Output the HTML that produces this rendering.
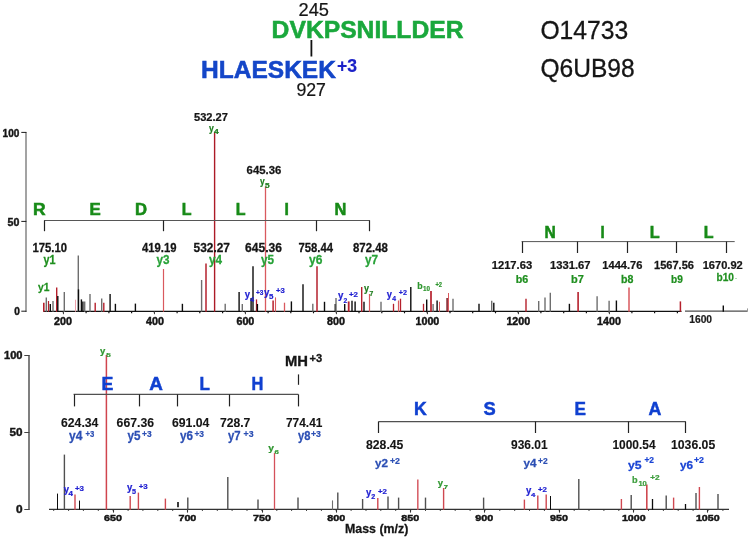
<!DOCTYPE html>
<html lang="en">
<head>
<meta charset="utf-8">
<title>Cross-linked peptide MS/MS spectrum</title>
<style>
html,body{margin:0;padding:0;background:#fff;}
body{width:750px;height:539px;overflow:hidden;}
svg{display:block;font-family:"Liberation Sans",sans-serif;}
svg text{white-space:pre;}
</style>
</head>
<body>
<svg width="750" height="539" viewBox="0 0 750 539">
<rect x="0" y="0" width="750" height="539" fill="#ffffff"/>
<text transform="translate(298.50,15.9) scale(0.987,1)" font-size="18.50" font-weight="normal" fill="#151515" stroke="#151515" stroke-width="0.22">245</text>
<text transform="translate(271.60,38.2) scale(1.036,1)" font-size="23.83" font-weight="bold" fill="#1aa83c" stroke="#1aa83c" stroke-width="0.52">DVKPSNILLDER</text>
<line x1="311.4" y1="40.0" x2="311.4" y2="56.5" stroke="#111" stroke-width="1.8"/>
<text transform="translate(201.00,77.6) scale(1.044,1)" font-size="23.51" font-weight="bold" fill="#1446c8" stroke="#1446c8" stroke-width="0.52">HLAESKEK</text>
<text transform="translate(336.90,72.3) scale(0.959,1)" font-size="18.39" font-weight="bold" fill="#1c22c8" stroke="#1c22c8" stroke-width="0.15">+3</text>
<text transform="translate(296.40,95.8) scale(0.969,1)" font-size="18.29" font-weight="normal" fill="#151515" stroke="#151515" stroke-width="0.22">927</text>
<text transform="translate(540.40,39.4) scale(0.992,1)" font-size="24.87" font-weight="normal" fill="#151515" stroke="#151515" stroke-width="0.30">O14733</text>
<text transform="translate(540.40,76.5) scale(0.988,1)" font-size="24.87" font-weight="normal" fill="#151515" stroke="#151515" stroke-width="0.30">Q6UB98</text>
<line x1="26.0" y1="132.0" x2="26.0" y2="311.9" stroke="#7c7c7c" stroke-width="1.4"/>
<line x1="21.3" y1="132.4" x2="26.4" y2="132.4" stroke="#1a1a1a" stroke-width="1.0"/>
<line x1="21.3" y1="221.4" x2="26.4" y2="221.4" stroke="#1a1a1a" stroke-width="1.0"/>
<line x1="21.3" y1="311.2" x2="26.4" y2="311.2" stroke="#1a1a1a" stroke-width="1.0"/>
<text transform="translate(2.60,136.5) scale(0.908,1)" font-size="11.08" font-weight="bold" fill="#151515" stroke="#151515" stroke-width="0.45">100</text>
<text transform="translate(7.60,225.5) scale(0.960,1)" font-size="11.08" font-weight="bold" fill="#151515" stroke="#151515" stroke-width="0.45">50</text>
<text transform="translate(14.20,315.3) scale(0.911,1)" font-size="11.08" font-weight="bold" fill="#151515" stroke="#151515" stroke-width="0.45">0</text>
<line x1="43.4" y1="311.4" x2="681.5" y2="311.4" stroke="#111" stroke-width="1.3"/>
<line x1="685.0" y1="311.1" x2="747.5" y2="311.1" stroke="#4c4c4c" stroke-width="1.1"/>
<line x1="62.8" y1="312.6" x2="64.0" y2="312.6" stroke="#111" stroke-width="1.4"/>
<line x1="85.5" y1="312.6" x2="86.7" y2="312.6" stroke="#111" stroke-width="1.4"/>
<line x1="108.3" y1="312.6" x2="109.5" y2="312.6" stroke="#111" stroke-width="1.4"/>
<line x1="131.0" y1="312.6" x2="132.2" y2="312.6" stroke="#111" stroke-width="1.4"/>
<line x1="153.8" y1="312.6" x2="155.0" y2="312.6" stroke="#111" stroke-width="1.4"/>
<line x1="176.5" y1="312.6" x2="177.7" y2="312.6" stroke="#111" stroke-width="1.4"/>
<line x1="199.2" y1="312.6" x2="200.4" y2="312.6" stroke="#111" stroke-width="1.4"/>
<line x1="222.0" y1="312.6" x2="223.2" y2="312.6" stroke="#111" stroke-width="1.4"/>
<line x1="244.7" y1="312.6" x2="245.9" y2="312.6" stroke="#111" stroke-width="1.4"/>
<line x1="267.5" y1="312.6" x2="268.7" y2="312.6" stroke="#111" stroke-width="1.4"/>
<line x1="290.2" y1="312.6" x2="291.4" y2="312.6" stroke="#111" stroke-width="1.4"/>
<line x1="312.9" y1="312.6" x2="314.1" y2="312.6" stroke="#111" stroke-width="1.4"/>
<line x1="335.7" y1="312.6" x2="336.9" y2="312.6" stroke="#111" stroke-width="1.4"/>
<line x1="358.4" y1="312.6" x2="359.6" y2="312.6" stroke="#111" stroke-width="1.4"/>
<line x1="381.2" y1="312.6" x2="382.4" y2="312.6" stroke="#111" stroke-width="1.4"/>
<line x1="403.9" y1="312.6" x2="405.1" y2="312.6" stroke="#111" stroke-width="1.4"/>
<line x1="426.6" y1="312.6" x2="427.8" y2="312.6" stroke="#111" stroke-width="1.4"/>
<line x1="449.4" y1="312.6" x2="450.6" y2="312.6" stroke="#111" stroke-width="1.4"/>
<line x1="472.1" y1="312.6" x2="473.3" y2="312.6" stroke="#111" stroke-width="1.4"/>
<line x1="494.9" y1="312.6" x2="496.1" y2="312.6" stroke="#111" stroke-width="1.4"/>
<line x1="517.6" y1="312.6" x2="518.8" y2="312.6" stroke="#111" stroke-width="1.4"/>
<line x1="540.3" y1="312.6" x2="541.5" y2="312.6" stroke="#111" stroke-width="1.4"/>
<line x1="563.1" y1="312.6" x2="564.3" y2="312.6" stroke="#111" stroke-width="1.4"/>
<line x1="585.8" y1="312.6" x2="587.0" y2="312.6" stroke="#111" stroke-width="1.4"/>
<line x1="608.6" y1="312.6" x2="609.8" y2="312.6" stroke="#111" stroke-width="1.4"/>
<line x1="631.3" y1="312.6" x2="632.5" y2="312.6" stroke="#111" stroke-width="1.4"/>
<line x1="654.0" y1="312.6" x2="655.2" y2="312.6" stroke="#111" stroke-width="1.4"/>
<line x1="676.8" y1="312.6" x2="678.0" y2="312.6" stroke="#111" stroke-width="1.4"/>
<line x1="63.5" y1="311.4" x2="63.5" y2="314.2" stroke="#444" stroke-width="1.0"/>
<line x1="154.5" y1="311.4" x2="154.5" y2="314.2" stroke="#444" stroke-width="1.0"/>
<line x1="245.5" y1="311.4" x2="245.5" y2="314.2" stroke="#444" stroke-width="1.0"/>
<line x1="336.5" y1="311.4" x2="336.5" y2="314.2" stroke="#444" stroke-width="1.0"/>
<line x1="427.5" y1="311.4" x2="427.5" y2="314.2" stroke="#444" stroke-width="1.0"/>
<line x1="518.5" y1="311.4" x2="518.5" y2="314.2" stroke="#444" stroke-width="1.0"/>
<line x1="609.5" y1="311.4" x2="609.5" y2="314.2" stroke="#444" stroke-width="1.0"/>
<line x1="43.8" y1="302.7" x2="43.8" y2="311.7" stroke="#b5202c" stroke-width="1.6"/>
<line x1="46.3" y1="297.4" x2="46.3" y2="311.7" stroke="#6e6e6e" stroke-width="1.4"/>
<line x1="48.5" y1="301.0" x2="48.5" y2="311.7" stroke="#b5202c" stroke-width="1.2"/>
<line x1="50.3" y1="304.0" x2="50.3" y2="311.7" stroke="#0c0c0c" stroke-width="1.4"/>
<line x1="53.0" y1="301.0" x2="53.0" y2="311.7" stroke="#6e6e6e" stroke-width="1.4"/>
<line x1="56.7" y1="287.6" x2="56.7" y2="311.7" stroke="#b5202c" stroke-width="1.4"/>
<line x1="57.8" y1="296.0" x2="57.8" y2="311.7" stroke="#0c0c0c" stroke-width="1.4"/>
<line x1="64.3" y1="292.0" x2="64.3" y2="311.7" stroke="#6e6e6e" stroke-width="1.4"/>
<line x1="75.5" y1="299.7" x2="75.5" y2="311.7" stroke="#eea0aa" stroke-width="1"/>
<line x1="78.3" y1="255.6" x2="78.3" y2="311.7" stroke="#6e6e6e" stroke-width="1.4"/>
<line x1="78.5" y1="289.4" x2="78.5" y2="311.7" stroke="#0c0c0c" stroke-width="1.4"/>
<line x1="81.4" y1="299.4" x2="81.4" y2="311.7" stroke="#0c0c0c" stroke-width="1.4"/>
<line x1="82.9" y1="301.4" x2="82.9" y2="311.7" stroke="#0c0c0c" stroke-width="1.4"/>
<line x1="84.7" y1="301.4" x2="84.7" y2="311.7" stroke="#6e6e6e" stroke-width="1.4"/>
<line x1="90.0" y1="294.0" x2="90.0" y2="311.7" stroke="#6e6e6e" stroke-width="1.4"/>
<line x1="95.2" y1="302.7" x2="95.2" y2="311.7" stroke="#b5202c" stroke-width="1.4"/>
<line x1="101.7" y1="298.5" x2="101.7" y2="311.7" stroke="#6e6e6e" stroke-width="1.4"/>
<line x1="103.8" y1="302.7" x2="103.8" y2="311.7" stroke="#b5202c" stroke-width="1.4"/>
<line x1="110.1" y1="294.0" x2="110.1" y2="311.7" stroke="#0c0c0c" stroke-width="1.4"/>
<line x1="115.4" y1="303.8" x2="115.4" y2="311.7" stroke="#0c0c0c" stroke-width="1.4"/>
<line x1="135.4" y1="303.6" x2="135.4" y2="311.7" stroke="#0c0c0c" stroke-width="1.4"/>
<line x1="163.5" y1="269.0" x2="163.5" y2="311.7" stroke="#d9595e" stroke-width="1.2"/>
<line x1="182.4" y1="303.8" x2="182.4" y2="311.7" stroke="#0c0c0c" stroke-width="1.4"/>
<line x1="201.6" y1="280.0" x2="201.6" y2="311.7" stroke="#6e6e6e" stroke-width="1.4"/>
<line x1="206.0" y1="263.6" x2="206.0" y2="311.7" stroke="#b5202c" stroke-width="1.5"/>
<line x1="214.6" y1="132.3" x2="214.6" y2="311.7" stroke="#ac1a26" stroke-width="1.4"/>
<line x1="225.2" y1="303.8" x2="225.2" y2="311.7" stroke="#6e6e6e" stroke-width="1.4"/>
<line x1="239.1" y1="292.0" x2="239.1" y2="311.7" stroke="#0c0c0c" stroke-width="1.4"/>
<line x1="242.3" y1="304.0" x2="242.3" y2="311.7" stroke="#6e6e6e" stroke-width="1.4"/>
<line x1="251.1" y1="298.0" x2="251.1" y2="311.7" stroke="#0c0c0c" stroke-width="1.4"/>
<line x1="253.0" y1="266.3" x2="253.0" y2="311.7" stroke="#0c0c0c" stroke-width="1.4"/>
<line x1="256.5" y1="299.4" x2="256.5" y2="311.7" stroke="#b5202c" stroke-width="1.3"/>
<line x1="257.4" y1="304.0" x2="257.4" y2="311.7" stroke="#0c0c0c" stroke-width="1.4"/>
<line x1="265.5" y1="186.4" x2="265.5" y2="311.7" stroke="#d9595e" stroke-width="1.3"/>
<line x1="273.1" y1="300.5" x2="273.1" y2="311.7" stroke="#b5202c" stroke-width="1.5"/>
<line x1="275.5" y1="297.4" x2="275.5" y2="311.7" stroke="#d9595e" stroke-width="1.1"/>
<line x1="284.5" y1="302.7" x2="284.5" y2="311.7" stroke="#d9595e" stroke-width="1.3"/>
<line x1="291.4" y1="301.4" x2="291.4" y2="311.7" stroke="#0c0c0c" stroke-width="1.4"/>
<line x1="303.0" y1="284.3" x2="303.0" y2="311.7" stroke="#0c0c0c" stroke-width="1.4"/>
<line x1="312.8" y1="303.8" x2="312.8" y2="311.7" stroke="#6e6e6e" stroke-width="1.4"/>
<line x1="317.0" y1="266.3" x2="317.0" y2="311.7" stroke="#b5202c" stroke-width="1.5"/>
<line x1="324.5" y1="301.8" x2="324.5" y2="311.7" stroke="#0c0c0c" stroke-width="1.4"/>
<line x1="335.3" y1="304.0" x2="335.3" y2="311.7" stroke="#0c0c0c" stroke-width="1.5"/>
<line x1="336.0" y1="298.0" x2="336.0" y2="311.7" stroke="#6e6e6e" stroke-width="1.4"/>
<line x1="344.7" y1="304.0" x2="344.7" y2="311.7" stroke="#0c0c0c" stroke-width="1.4"/>
<line x1="348.7" y1="301.4" x2="348.7" y2="311.7" stroke="#b5202c" stroke-width="1.8"/>
<line x1="352.0" y1="300.7" x2="352.0" y2="311.7" stroke="#0c0c0c" stroke-width="1.4"/>
<line x1="355.1" y1="301.4" x2="355.1" y2="311.7" stroke="#0c0c0c" stroke-width="1.4"/>
<line x1="361.7" y1="287.1" x2="361.7" y2="311.7" stroke="#b5202c" stroke-width="1.4"/>
<line x1="364.0" y1="301.8" x2="364.0" y2="311.7" stroke="#0c0c0c" stroke-width="1.4"/>
<line x1="369.5" y1="294.0" x2="369.5" y2="311.7" stroke="#d9595e" stroke-width="1.2"/>
<line x1="381.0" y1="301.8" x2="381.0" y2="311.7" stroke="#6e6e6e" stroke-width="1.4"/>
<line x1="393.5" y1="303.8" x2="393.5" y2="311.7" stroke="#b5202c" stroke-width="1.3"/>
<line x1="398.5" y1="300.5" x2="398.5" y2="311.7" stroke="#d9595e" stroke-width="1.2"/>
<line x1="400.5" y1="298.7" x2="400.5" y2="311.7" stroke="#b5202c" stroke-width="1.3"/>
<line x1="410.8" y1="287.1" x2="410.8" y2="311.7" stroke="#0c0c0c" stroke-width="1.4"/>
<line x1="423.5" y1="303.8" x2="423.5" y2="311.7" stroke="#b5202c" stroke-width="1.3"/>
<line x1="426.7" y1="299.4" x2="426.7" y2="311.7" stroke="#0c0c0c" stroke-width="1.4"/>
<line x1="431.0" y1="291.1" x2="431.0" y2="311.7" stroke="#b5202c" stroke-width="1.7"/>
<line x1="433.1" y1="304.0" x2="433.1" y2="311.7" stroke="#6e6e6e" stroke-width="1.4"/>
<line x1="437.1" y1="300.5" x2="437.1" y2="311.7" stroke="#0c0c0c" stroke-width="1.4"/>
<line x1="439.5" y1="301.8" x2="439.5" y2="311.7" stroke="#d9595e" stroke-width="1"/>
<line x1="447.1" y1="298.0" x2="447.1" y2="311.7" stroke="#7a1520" stroke-width="1.5"/>
<line x1="448.5" y1="293.0" x2="448.5" y2="311.7" stroke="#d9595e" stroke-width="1"/>
<line x1="453.0" y1="298.7" x2="453.0" y2="311.7" stroke="#6e6e6e" stroke-width="1.4"/>
<line x1="479.0" y1="303.8" x2="479.0" y2="311.7" stroke="#0c0c0c" stroke-width="1.4"/>
<line x1="491.7" y1="300.7" x2="491.7" y2="311.7" stroke="#6e6e6e" stroke-width="1.4"/>
<line x1="493.8" y1="302.7" x2="493.8" y2="311.7" stroke="#0c0c0c" stroke-width="1.4"/>
<line x1="526.0" y1="298.7" x2="526.0" y2="311.7" stroke="#b5202c" stroke-width="1.4"/>
<line x1="538.7" y1="301.0" x2="538.7" y2="311.7" stroke="#6e6e6e" stroke-width="1.4"/>
<line x1="545.0" y1="297.4" x2="545.0" y2="311.7" stroke="#6e6e6e" stroke-width="1.4"/>
<line x1="550.3" y1="292.7" x2="550.3" y2="311.7" stroke="#6e6e6e" stroke-width="1.4"/>
<line x1="569.4" y1="303.8" x2="569.4" y2="311.7" stroke="#0c0c0c" stroke-width="1.4"/>
<line x1="578.1" y1="292.0" x2="578.1" y2="311.7" stroke="#b5202c" stroke-width="1.6"/>
<line x1="597.1" y1="296.3" x2="597.1" y2="311.7" stroke="#6e6e6e" stroke-width="1.4"/>
<line x1="609.1" y1="300.7" x2="609.1" y2="311.7" stroke="#6e6e6e" stroke-width="1.4"/>
<line x1="616.4" y1="300.5" x2="616.4" y2="311.7" stroke="#0c0c0c" stroke-width="1.4"/>
<line x1="629.0" y1="287.6" x2="629.0" y2="311.7" stroke="#d9595e" stroke-width="1.5"/>
<line x1="680.4" y1="301.4" x2="680.4" y2="311.7" stroke="#b5202c" stroke-width="1.5"/>
<line x1="723.3" y1="305.6" x2="723.3" y2="311.7" stroke="#0c0c0c" stroke-width="1.4"/>
<line x1="747.5" y1="308.4" x2="747.5" y2="311.7" stroke="#999" stroke-width="1"/>
<text transform="translate(54.03,324.5) scale(1.060,1)" font-size="10.14" font-weight="bold" fill="#151515" stroke="#151515" stroke-width="0.45">200</text>
<text transform="translate(146.03,324.5) scale(1.060,1)" font-size="10.14" font-weight="bold" fill="#151515" stroke="#151515" stroke-width="0.45">400</text>
<text transform="translate(236.43,324.5) scale(1.060,1)" font-size="10.14" font-weight="bold" fill="#151515" stroke="#151515" stroke-width="0.45">600</text>
<text transform="translate(327.02,324.5) scale(1.060,1)" font-size="10.14" font-weight="bold" fill="#151515" stroke="#151515" stroke-width="0.45">800</text>
<text transform="translate(415.50,324.5) scale(1.055,1)" font-size="10.14" font-weight="bold" fill="#151515" stroke="#151515" stroke-width="0.45">1000</text>
<text transform="translate(506.40,324.5) scale(1.055,1)" font-size="10.14" font-weight="bold" fill="#151515" stroke="#151515" stroke-width="0.45">1200</text>
<text transform="translate(597.10,324.5) scale(1.055,1)" font-size="10.14" font-weight="bold" fill="#151515" stroke="#151515" stroke-width="0.45">1400</text>
<text transform="translate(689.20,322.6) scale(0.956,1)" font-size="10.76" font-weight="bold" fill="#1c1c1c" stroke="#1c1c1c" stroke-width="0.20">1600</text>
<text transform="translate(194.00,121.0) scale(0.967,1)" font-size="11.49" font-weight="bold" fill="#151515" stroke="#151515" stroke-width="0.25">532.27</text>
<text transform="translate(246.60,174.4) scale(0.989,1)" font-size="11.49" font-weight="bold" fill="#151515" stroke="#151515" stroke-width="0.25">645.36</text>
<text transform="translate(208.90,131.7) scale(0.828,1)" font-size="10.45" font-weight="bold" fill="#1d7d1d" stroke="#1d7d1d" stroke-width="0.22">y</text>
<text transform="translate(214.00,133.9) scale(1.307,1)" font-size="6.48" font-weight="bold" fill="#1d7d1d" stroke="#1d7d1d" stroke-width="0.22">4</text>
<text transform="translate(260.10,185.2) scale(0.810,1)" font-size="10.45" font-weight="bold" fill="#1d7d1d" stroke="#1d7d1d" stroke-width="0.22">y</text>
<text transform="translate(265.00,187.8) scale(1.279,1)" font-size="6.48" font-weight="bold" fill="#1d7d1d" stroke="#1d7d1d" stroke-width="0.22">5</text>
<text transform="translate(244.70,297.7) scale(0.870,1)" font-size="10.97" font-weight="bold" fill="#2222d2" stroke="#2222d2" stroke-width="0.22">y</text>
<text transform="translate(250.20,301.8) scale(0.936,1)" font-size="7.31" font-weight="bold" fill="#2222d2" stroke="#2222d2" stroke-width="0.22">4</text>
<text transform="translate(256.00,295.4) scale(0.887,1)" font-size="7.31" font-weight="bold" fill="#2222d2" stroke="#2222d2" stroke-width="0.22">+3</text>
<text transform="translate(264.00,295.7) scale(0.887,1)" font-size="10.97" font-weight="bold" fill="#2222d2" stroke="#2222d2" stroke-width="0.22">y</text>
<text transform="translate(269.00,298.7) scale(1.084,1)" font-size="7.31" font-weight="bold" fill="#2222d2" stroke="#2222d2" stroke-width="0.22">5</text>
<text transform="translate(276.00,293.4) scale(1.043,1)" font-size="7.31" font-weight="bold" fill="#2222d2" stroke="#2222d2" stroke-width="0.22">+3</text>
<text transform="translate(338.00,299.2) scale(0.931,1)" font-size="10.45" font-weight="bold" fill="#2222d2" stroke="#2222d2" stroke-width="0.22">y</text>
<text transform="translate(343.60,303.2) scale(0.936,1)" font-size="7.31" font-weight="bold" fill="#2222d2" stroke="#2222d2" stroke-width="0.22">2</text>
<text transform="translate(349.00,297.2) scale(1.079,1)" font-size="7.31" font-weight="bold" fill="#2222d2" stroke="#2222d2" stroke-width="0.22">+2</text>
<text transform="translate(364.00,292.4) scale(0.821,1)" font-size="10.97" font-weight="bold" fill="#1d7d1d" stroke="#1d7d1d" stroke-width="0.22">y</text>
<text transform="translate(369.60,296.0) scale(0.936,1)" font-size="7.31" font-weight="bold" fill="#1d7d1d" stroke="#1d7d1d" stroke-width="0.22">7</text>
<text transform="translate(386.80,297.8) scale(0.854,1)" font-size="10.97" font-weight="bold" fill="#2222d2" stroke="#2222d2" stroke-width="0.22">y</text>
<text transform="translate(392.20,301.4) scale(0.936,1)" font-size="7.31" font-weight="bold" fill="#2222d2" stroke="#2222d2" stroke-width="0.22">4</text>
<text transform="translate(398.80,295.4) scale(0.983,1)" font-size="7.31" font-weight="bold" fill="#2222d2" stroke="#2222d2" stroke-width="0.22">+2</text>
<text transform="translate(417.30,289.4) scale(0.901,1)" font-size="9.82" font-weight="bold" fill="#2f962f" stroke="#2f962f" stroke-width="0.22">b</text>
<text transform="translate(423.00,291.4) scale(0.928,1)" font-size="6.79" font-weight="bold" fill="#2f962f" stroke="#2f962f" stroke-width="0.22">10</text>
<text transform="translate(435.40,286.7) scale(0.879,1)" font-size="6.58" font-weight="bold" fill="#2f962f" stroke="#2f962f" stroke-width="0.22">+2</text>
<line x1="44.2" y1="220.5" x2="369.8" y2="220.5" stroke="#565656" stroke-width="1.0"/>
<line x1="44.5" y1="220.4" x2="44.5" y2="231.2" stroke="#222" stroke-width="1.2"/>
<line x1="163.5" y1="220.4" x2="163.5" y2="231.2" stroke="#222" stroke-width="1.2"/>
<line x1="316.5" y1="220.4" x2="316.5" y2="231.2" stroke="#222" stroke-width="1.2"/>
<line x1="369.5" y1="220.4" x2="369.5" y2="231.2" stroke="#222" stroke-width="1.2"/>
<text transform="translate(33.00,214.6) scale(1.021,1)" font-size="17.14" font-weight="bold" fill="#178a17" stroke="#178a17" stroke-width="0.55">R</text>
<text transform="translate(89.40,214.6) scale(0.983,1)" font-size="17.14" font-weight="bold" fill="#178a17" stroke="#178a17" stroke-width="0.55">E</text>
<text transform="translate(135.00,214.6) scale(0.972,1)" font-size="17.14" font-weight="bold" fill="#178a17" stroke="#178a17" stroke-width="0.55">D</text>
<text transform="translate(181.80,214.6) scale(0.937,1)" font-size="17.14" font-weight="bold" fill="#178a17" stroke="#178a17" stroke-width="0.55">L</text>
<text transform="translate(235.80,214.6) scale(0.937,1)" font-size="17.14" font-weight="bold" fill="#178a17" stroke="#178a17" stroke-width="0.55">L</text>
<text transform="translate(284.60,214.6) scale(0.917,1)" font-size="17.14" font-weight="bold" fill="#178a17" stroke="#178a17" stroke-width="0.55">I</text>
<text transform="translate(334.40,214.6) scale(0.956,1)" font-size="17.14" font-weight="bold" fill="#178a17" stroke="#178a17" stroke-width="0.55">N</text>
<text transform="translate(32.40,252.3) scale(0.949,1)" font-size="11.91" font-weight="bold" fill="#151515" stroke="#151515" stroke-width="0.26">175.10</text>
<text transform="translate(142.00,252.3) scale(0.949,1)" font-size="11.91" font-weight="bold" fill="#151515" stroke="#151515" stroke-width="0.26">419.19</text>
<text transform="translate(193.60,252.3) scale(0.999,1)" font-size="11.91" font-weight="bold" fill="#151515" stroke="#151515" stroke-width="0.26">532.27</text>
<text transform="translate(245.00,252.3) scale(1.015,1)" font-size="11.91" font-weight="bold" fill="#151515" stroke="#151515" stroke-width="0.26">645.36</text>
<text transform="translate(298.40,252.3) scale(0.949,1)" font-size="11.91" font-weight="bold" fill="#151515" stroke="#151515" stroke-width="0.26">758.44</text>
<text transform="translate(353.00,252.3) scale(0.960,1)" font-size="11.91" font-weight="bold" fill="#151515" stroke="#151515" stroke-width="0.26">872.48</text>
<text transform="translate(43.60,263.8) scale(0.900,1)" font-size="12.02" font-weight="bold" fill="#1f8f1f" stroke="#1f8f1f" stroke-width="0.26">y1</text>
<text transform="translate(156.50,263.8) scale(0.975,1)" font-size="12.02" font-weight="bold" fill="#28a238" stroke="#28a238" stroke-width="0.26">y3</text>
<text transform="translate(209.00,263.8) scale(0.975,1)" font-size="12.02" font-weight="bold" fill="#28a238" stroke="#28a238" stroke-width="0.26">y4</text>
<text transform="translate(261.00,263.8) scale(0.975,1)" font-size="12.02" font-weight="bold" fill="#28a238" stroke="#28a238" stroke-width="0.26">y5</text>
<text transform="translate(309.00,263.8) scale(1.005,1)" font-size="12.02" font-weight="bold" fill="#28a238" stroke="#28a238" stroke-width="0.26">y6</text>
<text transform="translate(365.00,263.8) scale(0.975,1)" font-size="12.02" font-weight="bold" fill="#28a238" stroke="#28a238" stroke-width="0.26">y7</text>
<text transform="translate(38.00,291.4) scale(0.870,1)" font-size="11.81" font-weight="bold" fill="#1f8f1f" stroke="#1f8f1f" stroke-width="0.26">y1</text>
<line x1="521.6" y1="241.6" x2="734.7" y2="241.6" stroke="#565656" stroke-width="1.0"/>
<line x1="522.5" y1="241.6" x2="522.5" y2="253.0" stroke="#222" stroke-width="1.2"/>
<line x1="577.5" y1="241.6" x2="577.5" y2="253.0" stroke="#222" stroke-width="1.2"/>
<line x1="627.5" y1="241.6" x2="627.5" y2="253.0" stroke="#222" stroke-width="1.2"/>
<line x1="676.5" y1="241.6" x2="676.5" y2="253.0" stroke="#222" stroke-width="1.2"/>
<line x1="726.5" y1="241.6" x2="726.5" y2="253.0" stroke="#222" stroke-width="1.2"/>
<text transform="translate(544.40,237.8) scale(0.897,1)" font-size="17.35" font-weight="bold" fill="#178a17" stroke="#178a17" stroke-width="0.55">N</text>
<text transform="translate(600.40,237.8) scale(0.865,1)" font-size="17.35" font-weight="bold" fill="#178a17" stroke="#178a17" stroke-width="0.55">I</text>
<text transform="translate(649.70,237.8) scale(0.936,1)" font-size="17.35" font-weight="bold" fill="#178a17" stroke="#178a17" stroke-width="0.55">L</text>
<text transform="translate(703.80,237.8) scale(0.926,1)" font-size="17.35" font-weight="bold" fill="#178a17" stroke="#178a17" stroke-width="0.55">L</text>
<text transform="translate(491.70,269.1) scale(0.984,1)" font-size="11.39" font-weight="bold" fill="#151515" stroke="#151515" stroke-width="0.25">1217.63</text>
<text transform="translate(550.00,269.1) scale(0.984,1)" font-size="11.39" font-weight="bold" fill="#151515" stroke="#151515" stroke-width="0.25">1331.67</text>
<text transform="translate(602.30,269.1) scale(0.976,1)" font-size="11.39" font-weight="bold" fill="#151515" stroke="#151515" stroke-width="0.25">1444.76</text>
<text transform="translate(654.00,269.1) scale(0.971,1)" font-size="11.39" font-weight="bold" fill="#151515" stroke="#151515" stroke-width="0.25">1567.56</text>
<text transform="translate(702.70,269.1) scale(0.974,1)" font-size="11.39" font-weight="bold" fill="#151515" stroke="#151515" stroke-width="0.25">1670.92</text>
<text transform="translate(515.80,282.9) scale(0.951,1)" font-size="11.29" font-weight="bold" fill="#1f8f1f" stroke="#1f8f1f" stroke-width="0.25">b6</text>
<text transform="translate(571.00,282.9) scale(0.974,1)" font-size="11.29" font-weight="bold" fill="#1f8f1f" stroke="#1f8f1f" stroke-width="0.25">b7</text>
<text transform="translate(621.00,282.9) scale(0.943,1)" font-size="11.29" font-weight="bold" fill="#1f8f1f" stroke="#1f8f1f" stroke-width="0.25">b8</text>
<text transform="translate(671.00,283.3) scale(0.897,1)" font-size="11.29" font-weight="bold" fill="#1f8f1f" stroke="#1f8f1f" stroke-width="0.25">b9</text>
<text transform="translate(716.50,281.0) scale(0.899,1)" font-size="11.29" font-weight="bold" fill="#1f8f1f" stroke="#1f8f1f" stroke-width="0.25">b10</text>
<circle cx="736" cy="278.4" r="0.5" fill="#28a238"/>
<line x1="29.0" y1="355.0" x2="29.0" y2="509.9" stroke="#555" stroke-width="1.5"/>
<line x1="24.3" y1="355.5" x2="29.4" y2="355.5" stroke="#444" stroke-width="1.0"/>
<line x1="24.3" y1="432.5" x2="29.4" y2="432.5" stroke="#444" stroke-width="1.0"/>
<line x1="24.3" y1="509.5" x2="29.4" y2="509.5" stroke="#444" stroke-width="1.0"/>
<text transform="translate(4.00,359.0) scale(1.110,1)" font-size="10.03" font-weight="bold" fill="#151515" stroke="#151515" stroke-width="0.40">100</text>
<text transform="translate(9.60,435.6) scale(1.167,1)" font-size="10.03" font-weight="bold" fill="#151515" stroke="#151515" stroke-width="0.40">50</text>
<text transform="translate(16.00,513.4) scale(1.185,1)" font-size="10.03" font-weight="bold" fill="#151515" stroke="#151515" stroke-width="0.40">0</text>
<line x1="49.0" y1="509.4" x2="729.0" y2="509.4" stroke="#333" stroke-width="1.1"/>
<line x1="53.2" y1="510.4" x2="54.2" y2="510.4" stroke="#333" stroke-width="1.0"/>
<line x1="68.1" y1="510.4" x2="69.1" y2="510.4" stroke="#333" stroke-width="1.0"/>
<line x1="82.9" y1="510.4" x2="83.9" y2="510.4" stroke="#333" stroke-width="1.0"/>
<line x1="97.8" y1="510.4" x2="98.8" y2="510.4" stroke="#333" stroke-width="1.0"/>
<line x1="112.7" y1="510.4" x2="113.7" y2="510.4" stroke="#333" stroke-width="1.0"/>
<line x1="127.6" y1="510.4" x2="128.6" y2="510.4" stroke="#333" stroke-width="1.0"/>
<line x1="142.4" y1="510.4" x2="143.4" y2="510.4" stroke="#333" stroke-width="1.0"/>
<line x1="157.3" y1="510.4" x2="158.3" y2="510.4" stroke="#333" stroke-width="1.0"/>
<line x1="172.2" y1="510.4" x2="173.2" y2="510.4" stroke="#333" stroke-width="1.0"/>
<line x1="187.0" y1="510.4" x2="188.0" y2="510.4" stroke="#333" stroke-width="1.0"/>
<line x1="201.9" y1="510.4" x2="202.9" y2="510.4" stroke="#333" stroke-width="1.0"/>
<line x1="216.8" y1="510.4" x2="217.8" y2="510.4" stroke="#333" stroke-width="1.0"/>
<line x1="231.6" y1="510.4" x2="232.6" y2="510.4" stroke="#333" stroke-width="1.0"/>
<line x1="246.5" y1="510.4" x2="247.5" y2="510.4" stroke="#333" stroke-width="1.0"/>
<line x1="261.4" y1="510.4" x2="262.4" y2="510.4" stroke="#333" stroke-width="1.0"/>
<line x1="276.3" y1="510.4" x2="277.3" y2="510.4" stroke="#333" stroke-width="1.0"/>
<line x1="291.1" y1="510.4" x2="292.1" y2="510.4" stroke="#333" stroke-width="1.0"/>
<line x1="306.0" y1="510.4" x2="307.0" y2="510.4" stroke="#333" stroke-width="1.0"/>
<line x1="320.9" y1="510.4" x2="321.9" y2="510.4" stroke="#333" stroke-width="1.0"/>
<line x1="335.7" y1="510.4" x2="336.7" y2="510.4" stroke="#333" stroke-width="1.0"/>
<line x1="350.6" y1="510.4" x2="351.6" y2="510.4" stroke="#333" stroke-width="1.0"/>
<line x1="365.5" y1="510.4" x2="366.5" y2="510.4" stroke="#333" stroke-width="1.0"/>
<line x1="380.3" y1="510.4" x2="381.3" y2="510.4" stroke="#333" stroke-width="1.0"/>
<line x1="395.2" y1="510.4" x2="396.2" y2="510.4" stroke="#333" stroke-width="1.0"/>
<line x1="410.1" y1="510.4" x2="411.1" y2="510.4" stroke="#333" stroke-width="1.0"/>
<line x1="425.0" y1="510.4" x2="426.0" y2="510.4" stroke="#333" stroke-width="1.0"/>
<line x1="439.8" y1="510.4" x2="440.8" y2="510.4" stroke="#333" stroke-width="1.0"/>
<line x1="454.7" y1="510.4" x2="455.7" y2="510.4" stroke="#333" stroke-width="1.0"/>
<line x1="469.6" y1="510.4" x2="470.6" y2="510.4" stroke="#333" stroke-width="1.0"/>
<line x1="484.4" y1="510.4" x2="485.4" y2="510.4" stroke="#333" stroke-width="1.0"/>
<line x1="499.3" y1="510.4" x2="500.3" y2="510.4" stroke="#333" stroke-width="1.0"/>
<line x1="514.2" y1="510.4" x2="515.2" y2="510.4" stroke="#333" stroke-width="1.0"/>
<line x1="529.0" y1="510.4" x2="530.0" y2="510.4" stroke="#333" stroke-width="1.0"/>
<line x1="543.9" y1="510.4" x2="544.9" y2="510.4" stroke="#333" stroke-width="1.0"/>
<line x1="558.8" y1="510.4" x2="559.8" y2="510.4" stroke="#333" stroke-width="1.0"/>
<line x1="573.7" y1="510.4" x2="574.7" y2="510.4" stroke="#333" stroke-width="1.0"/>
<line x1="588.5" y1="510.4" x2="589.5" y2="510.4" stroke="#333" stroke-width="1.0"/>
<line x1="603.4" y1="510.4" x2="604.4" y2="510.4" stroke="#333" stroke-width="1.0"/>
<line x1="618.3" y1="510.4" x2="619.3" y2="510.4" stroke="#333" stroke-width="1.0"/>
<line x1="633.1" y1="510.4" x2="634.1" y2="510.4" stroke="#333" stroke-width="1.0"/>
<line x1="648.0" y1="510.4" x2="649.0" y2="510.4" stroke="#333" stroke-width="1.0"/>
<line x1="662.9" y1="510.4" x2="663.9" y2="510.4" stroke="#333" stroke-width="1.0"/>
<line x1="677.7" y1="510.4" x2="678.7" y2="510.4" stroke="#333" stroke-width="1.0"/>
<line x1="692.6" y1="510.4" x2="693.6" y2="510.4" stroke="#333" stroke-width="1.0"/>
<line x1="707.5" y1="510.4" x2="708.5" y2="510.4" stroke="#333" stroke-width="1.0"/>
<line x1="722.4" y1="510.4" x2="723.4" y2="510.4" stroke="#333" stroke-width="1.0"/>
<line x1="113.5" y1="509.4" x2="113.5" y2="512.6" stroke="#333" stroke-width="1.1"/>
<line x1="187.5" y1="509.4" x2="187.5" y2="512.6" stroke="#333" stroke-width="1.1"/>
<line x1="262.5" y1="509.4" x2="262.5" y2="512.6" stroke="#333" stroke-width="1.1"/>
<line x1="336.5" y1="509.4" x2="336.5" y2="512.6" stroke="#333" stroke-width="1.1"/>
<line x1="410.5" y1="509.4" x2="410.5" y2="512.6" stroke="#333" stroke-width="1.1"/>
<line x1="484.5" y1="509.4" x2="484.5" y2="512.6" stroke="#333" stroke-width="1.1"/>
<line x1="559.5" y1="509.4" x2="559.5" y2="512.6" stroke="#333" stroke-width="1.1"/>
<line x1="633.5" y1="509.4" x2="633.5" y2="512.6" stroke="#333" stroke-width="1.1"/>
<line x1="707.5" y1="509.4" x2="707.5" y2="512.6" stroke="#333" stroke-width="1.1"/>
<line x1="57.5" y1="493.6" x2="57.5" y2="509.7" stroke="#0c0c0c" stroke-width="1"/>
<line x1="64.4" y1="454.6" x2="64.4" y2="509.7" stroke="#505050" stroke-width="1.4"/>
<line x1="75.0" y1="494.6" x2="75.0" y2="509.7" stroke="#cf4850" stroke-width="1.4"/>
<line x1="79.5" y1="500.6" x2="79.5" y2="509.7" stroke="#0c0c0c" stroke-width="1"/>
<line x1="106.4" y1="355.0" x2="106.4" y2="509.7" stroke="#d0444e" stroke-width="1.5"/>
<line x1="130.2" y1="496.0" x2="130.2" y2="509.7" stroke="#cf4850" stroke-width="1.4"/>
<line x1="138.4" y1="492.6" x2="138.4" y2="509.7" stroke="#cf4850" stroke-width="1.4"/>
<line x1="165.4" y1="498.6" x2="165.4" y2="509.7" stroke="#cf4850" stroke-width="1.4"/>
<line x1="187.8" y1="497.6" x2="187.8" y2="509.7" stroke="#505050" stroke-width="1.4"/>
<line x1="227.8" y1="477.0" x2="227.8" y2="509.7" stroke="#505050" stroke-width="1.4"/>
<line x1="258.0" y1="499.4" x2="258.0" y2="509.7" stroke="#505050" stroke-width="1.4"/>
<line x1="274.5" y1="453.0" x2="274.5" y2="509.7" stroke="#d4505a" stroke-width="1.3"/>
<line x1="298.0" y1="497.6" x2="298.0" y2="509.7" stroke="#505050" stroke-width="1.4"/>
<line x1="332.5" y1="500.4" x2="332.5" y2="509.7" stroke="#6e6e6e" stroke-width="1.1"/>
<line x1="337.8" y1="492.4" x2="337.8" y2="509.7" stroke="#505050" stroke-width="1.4"/>
<line x1="362.6" y1="499.0" x2="362.6" y2="509.7" stroke="#505050" stroke-width="1.4"/>
<line x1="377.8" y1="498.0" x2="377.8" y2="509.7" stroke="#cf4850" stroke-width="1.4"/>
<line x1="388.0" y1="496.4" x2="388.0" y2="509.7" stroke="#505050" stroke-width="1.4"/>
<line x1="398.6" y1="497.6" x2="398.6" y2="509.7" stroke="#505050" stroke-width="1.4"/>
<line x1="417.8" y1="479.6" x2="417.8" y2="509.7" stroke="#d8646c" stroke-width="1.6"/>
<line x1="425.5" y1="497.6" x2="425.5" y2="509.7" stroke="#505050" stroke-width="1.4"/>
<line x1="443.6" y1="488.0" x2="443.6" y2="509.7" stroke="#cf4850" stroke-width="1.4"/>
<line x1="483.6" y1="497.6" x2="483.6" y2="509.7" stroke="#505050" stroke-width="1.4"/>
<line x1="524.4" y1="499.6" x2="524.4" y2="509.7" stroke="#cf4850" stroke-width="1.4"/>
<line x1="537.8" y1="495.6" x2="537.8" y2="509.7" stroke="#cf4850" stroke-width="1.4"/>
<line x1="546.2" y1="494.4" x2="546.2" y2="509.7" stroke="#cf4850" stroke-width="1.4"/>
<line x1="550.5" y1="496.0" x2="550.5" y2="509.7" stroke="#0c0c0c" stroke-width="1"/>
<line x1="578.8" y1="479.0" x2="578.8" y2="509.7" stroke="#505050" stroke-width="1.4"/>
<line x1="621.4" y1="499.0" x2="621.4" y2="509.7" stroke="#cf4850" stroke-width="1.4"/>
<line x1="631.2" y1="495.0" x2="631.2" y2="509.7" stroke="#505050" stroke-width="1.4"/>
<line x1="646.8" y1="484.4" x2="646.8" y2="509.7" stroke="#cf4850" stroke-width="1.6"/>
<line x1="652.5" y1="499.0" x2="652.5" y2="509.7" stroke="#0c0c0c" stroke-width="1.3"/>
<line x1="666.2" y1="495.6" x2="666.2" y2="509.7" stroke="#505050" stroke-width="1.4"/>
<line x1="673.6" y1="497.6" x2="673.6" y2="509.7" stroke="#cf4850" stroke-width="1.4"/>
<line x1="685.5" y1="504.0" x2="685.5" y2="509.7" stroke="#0c0c0c" stroke-width="1.3"/>
<line x1="696.0" y1="493.0" x2="696.0" y2="509.7" stroke="#505050" stroke-width="1.4"/>
<line x1="699.4" y1="487.0" x2="699.4" y2="509.7" stroke="#cf4850" stroke-width="1.4"/>
<line x1="718.0" y1="494.0" x2="718.0" y2="509.7" stroke="#505050" stroke-width="1.4"/>
<line x1="178.0" y1="502.0" x2="178.0" y2="507.2" stroke="#0c0c0c" stroke-width="1.6"/>
<text transform="translate(104.03,521.1) scale(1.182,1)" font-size="9.09" font-weight="bold" fill="#151515" stroke="#151515" stroke-width="0.45">650</text>
<text transform="translate(178.43,521.1) scale(1.182,1)" font-size="9.09" font-weight="bold" fill="#151515" stroke="#151515" stroke-width="0.45">700</text>
<text transform="translate(253.03,521.1) scale(1.182,1)" font-size="9.09" font-weight="bold" fill="#151515" stroke="#151515" stroke-width="0.45">750</text>
<text transform="translate(327.32,521.1) scale(1.182,1)" font-size="9.09" font-weight="bold" fill="#151515" stroke="#151515" stroke-width="0.45">800</text>
<text transform="translate(401.22,521.1) scale(1.182,1)" font-size="9.09" font-weight="bold" fill="#151515" stroke="#151515" stroke-width="0.45">850</text>
<text transform="translate(475.32,521.1) scale(1.182,1)" font-size="9.09" font-weight="bold" fill="#151515" stroke="#151515" stroke-width="0.45">900</text>
<text transform="translate(550.02,521.1) scale(1.182,1)" font-size="9.09" font-weight="bold" fill="#151515" stroke="#151515" stroke-width="0.45">950</text>
<text transform="translate(621.90,521.1) scale(1.177,1)" font-size="9.09" font-weight="bold" fill="#151515" stroke="#151515" stroke-width="0.45">1000</text>
<text transform="translate(695.90,521.1) scale(1.177,1)" font-size="9.09" font-weight="bold" fill="#151515" stroke="#151515" stroke-width="0.45">1050</text>
<text transform="translate(345.00,533.2) scale(0.989,1)" font-size="12.54" font-weight="bold" fill="#151515" stroke="#151515" stroke-width="0.28">Mass (m/z)</text>
<line x1="73.6" y1="394.4" x2="298.4" y2="394.4" stroke="#505050" stroke-width="1.1"/>
<line x1="74.5" y1="394.4" x2="74.5" y2="406.4" stroke="#222" stroke-width="1.2"/>
<line x1="139.5" y1="394.4" x2="139.5" y2="406.4" stroke="#222" stroke-width="1.2"/>
<line x1="177.5" y1="394.4" x2="177.5" y2="406.4" stroke="#222" stroke-width="1.2"/>
<line x1="229.5" y1="394.4" x2="229.5" y2="406.4" stroke="#222" stroke-width="1.2"/>
<line x1="298.5" y1="394.4" x2="298.5" y2="406.4" stroke="#222" stroke-width="1.2"/>
<line x1="298.5" y1="374.4" x2="298.5" y2="384.8" stroke="#222" stroke-width="1.2"/>
<text transform="translate(101.60,390.0) scale(0.943,1)" font-size="18.81" font-weight="bold" fill="#1040d0" stroke="#1040d0" stroke-width="0.50">E</text>
<text transform="translate(149.20,390.0) scale(1.004,1)" font-size="18.81" font-weight="bold" fill="#1040d0" stroke="#1040d0" stroke-width="0.50">A</text>
<text transform="translate(199.60,390.0) scale(0.906,1)" font-size="18.81" font-weight="bold" fill="#1040d0" stroke="#1040d0" stroke-width="0.50">L</text>
<text transform="translate(251.60,390.0) scale(0.871,1)" font-size="18.81" font-weight="bold" fill="#1040d0" stroke="#1040d0" stroke-width="0.50">H</text>
<text transform="translate(285.00,366.0) scale(0.956,1)" font-size="15.47" font-weight="bold" fill="#151515" stroke="#151515" stroke-width="0.34">MH</text>
<text transform="translate(309.40,362.0) scale(0.959,1)" font-size="11.70" font-weight="bold" fill="#151515" stroke="#151515" stroke-width="0.26">+3</text>
<text transform="translate(61.00,426.9) scale(0.975,1)" font-size="12.54" font-weight="bold" fill="#151515" stroke="#151515" stroke-width="0.12">624.34</text>
<text transform="translate(116.60,426.9) scale(0.975,1)" font-size="12.54" font-weight="bold" fill="#151515" stroke="#151515" stroke-width="0.12">667.36</text>
<text transform="translate(172.00,426.9) scale(0.975,1)" font-size="12.54" font-weight="bold" fill="#151515" stroke="#151515" stroke-width="0.12">691.04</text>
<text transform="translate(220.00,426.9) scale(0.968,1)" font-size="12.54" font-weight="bold" fill="#151515" stroke="#151515" stroke-width="0.12">728.7</text>
<text transform="translate(286.00,426.9) scale(0.949,1)" font-size="12.54" font-weight="bold" fill="#151515" stroke="#151515" stroke-width="0.12">774.41</text>
<text transform="translate(69.00,440.2) scale(1.013,1)" font-size="11.91" font-weight="bold" fill="#2c4fb4" stroke="#2c4fb4" stroke-width="0.26">y4</text>
<text transform="translate(85.60,436.8) scale(0.839,1)" font-size="9.20" font-weight="bold" fill="#2c4fb4" stroke="#2c4fb4" stroke-width="0.20">+3</text>
<text transform="translate(127.60,440.2) scale(0.983,1)" font-size="11.91" font-weight="bold" fill="#2c4fb4" stroke="#2c4fb4" stroke-width="0.26">y5</text>
<text transform="translate(142.00,436.8) scale(0.916,1)" font-size="9.20" font-weight="bold" fill="#2c4fb4" stroke="#2c4fb4" stroke-width="0.20">+3</text>
<text transform="translate(180.00,440.2) scale(0.983,1)" font-size="11.91" font-weight="bold" fill="#2c4fb4" stroke="#2c4fb4" stroke-width="0.26">y6</text>
<text transform="translate(194.40,436.8) scale(0.916,1)" font-size="9.20" font-weight="bold" fill="#2c4fb4" stroke="#2c4fb4" stroke-width="0.20">+3</text>
<text transform="translate(228.00,440.2) scale(0.953,1)" font-size="11.91" font-weight="bold" fill="#2c4fb4" stroke="#2c4fb4" stroke-width="0.26">y7</text>
<text transform="translate(243.60,436.8) scale(0.954,1)" font-size="9.20" font-weight="bold" fill="#2c4fb4" stroke="#2c4fb4" stroke-width="0.20">+3</text>
<text transform="translate(298.00,440.2) scale(0.938,1)" font-size="11.91" font-weight="bold" fill="#2c4fb4" stroke="#2c4fb4" stroke-width="0.26">y8</text>
<text transform="translate(311.00,436.8) scale(0.954,1)" font-size="9.20" font-weight="bold" fill="#2c4fb4" stroke="#2c4fb4" stroke-width="0.20">+3</text>
<line x1="378.4" y1="421.6" x2="685.8" y2="421.6" stroke="#505050" stroke-width="1.1"/>
<line x1="378.5" y1="421.6" x2="378.5" y2="433.0" stroke="#222" stroke-width="1.2"/>
<line x1="535.5" y1="421.6" x2="535.5" y2="433.0" stroke="#222" stroke-width="1.2"/>
<line x1="628.5" y1="421.6" x2="628.5" y2="433.0" stroke="#222" stroke-width="1.2"/>
<line x1="685.5" y1="421.6" x2="685.5" y2="433.0" stroke="#222" stroke-width="1.2"/>
<text transform="translate(413.90,415.4) scale(0.938,1)" font-size="18.81" font-weight="bold" fill="#1040d0" stroke="#1040d0" stroke-width="0.50">K</text>
<text transform="translate(483.60,415.4) scale(0.975,1)" font-size="18.81" font-weight="bold" fill="#1040d0" stroke="#1040d0" stroke-width="0.50">S</text>
<text transform="translate(574.60,415.4) scale(0.911,1)" font-size="18.81" font-weight="bold" fill="#1040d0" stroke="#1040d0" stroke-width="0.50">E</text>
<text transform="translate(648.60,415.4) scale(0.945,1)" font-size="18.81" font-weight="bold" fill="#1040d0" stroke="#1040d0" stroke-width="0.50">A</text>
<text transform="translate(366.00,449.2) scale(0.975,1)" font-size="12.54" font-weight="bold" fill="#151515" stroke="#151515" stroke-width="0.12">828.45</text>
<text transform="translate(511.00,449.2) scale(0.954,1)" font-size="12.54" font-weight="bold" fill="#151515" stroke="#151515" stroke-width="0.12">936.01</text>
<text transform="translate(612.40,449.2) scale(0.953,1)" font-size="12.54" font-weight="bold" fill="#151515" stroke="#151515" stroke-width="0.12">1000.54</text>
<text transform="translate(671.00,449.2) scale(0.977,1)" font-size="12.54" font-weight="bold" fill="#151515" stroke="#151515" stroke-width="0.12">1036.05</text>
<text transform="translate(375.00,467.1) scale(0.992,1)" font-size="11.81" font-weight="bold" fill="#2c4fb4" stroke="#2c4fb4" stroke-width="0.26">y2</text>
<text transform="translate(390.00,463.8) scale(0.933,1)" font-size="9.40" font-weight="bold" fill="#2c4fb4" stroke="#2c4fb4" stroke-width="0.21">+2</text>
<text transform="translate(523.60,467.1) scale(0.992,1)" font-size="11.81" font-weight="bold" fill="#2c4fb4" stroke="#2c4fb4" stroke-width="0.26">y4</text>
<text transform="translate(538.00,463.8) scale(0.895,1)" font-size="9.40" font-weight="bold" fill="#2c4fb4" stroke="#2c4fb4" stroke-width="0.21">+2</text>
<text transform="translate(628.00,468.6) scale(1.038,1)" font-size="11.81" font-weight="bold" fill="#1a44d4" stroke="#1a44d4" stroke-width="0.26">y5</text>
<text transform="translate(644.40,463.2) scale(0.895,1)" font-size="9.40" font-weight="bold" fill="#1a44d4" stroke="#1a44d4" stroke-width="0.21">+2</text>
<text transform="translate(680.00,468.6) scale(0.992,1)" font-size="11.81" font-weight="bold" fill="#1a44d4" stroke="#1a44d4" stroke-width="0.26">y6</text>
<text transform="translate(694.00,463.2) scale(0.933,1)" font-size="9.40" font-weight="bold" fill="#1a44d4" stroke="#1a44d4" stroke-width="0.21">+2</text>
<text transform="translate(100.00,354.3) scale(0.972,1)" font-size="9.82" font-weight="bold" fill="#2f962f" stroke="#2f962f" stroke-width="0.22">y</text>
<text transform="translate(106.20,356.6) scale(1.293,1)" font-size="6.27" font-weight="bold" fill="#2f962f" stroke="#2f962f" stroke-width="0.22">5</text>
<text transform="translate(268.30,451.0) scale(1.046,1)" font-size="9.82" font-weight="bold" fill="#2f962f" stroke="#2f962f" stroke-width="0.22">y</text>
<text transform="translate(274.40,453.6) scale(1.236,1)" font-size="6.27" font-weight="bold" fill="#2f962f" stroke="#2f962f" stroke-width="0.22">6</text>
<text transform="translate(437.70,486.0) scale(0.972,1)" font-size="9.82" font-weight="bold" fill="#2f962f" stroke="#2f962f" stroke-width="0.22">y</text>
<text transform="translate(443.80,488.6) scale(1.207,1)" font-size="6.27" font-weight="bold" fill="#2f962f" stroke="#2f962f" stroke-width="0.22">7</text>
<text transform="translate(63.70,493.2) scale(0.952,1)" font-size="10.03" font-weight="bold" fill="#2222d2" stroke="#2222d2" stroke-width="0.22">y</text>
<text transform="translate(68.60,495.6) scale(1.264,1)" font-size="6.27" font-weight="bold" fill="#2222d2" stroke="#2222d2" stroke-width="0.22">4</text>
<text transform="translate(75.00,491.0) scale(1.079,1)" font-size="7.31" font-weight="bold" fill="#2222d2" stroke="#2222d2" stroke-width="0.22">+3</text>
<text transform="translate(127.00,491.2) scale(0.952,1)" font-size="10.03" font-weight="bold" fill="#2222d2" stroke="#2222d2" stroke-width="0.22">y</text>
<text transform="translate(132.00,493.6) scale(1.149,1)" font-size="6.27" font-weight="bold" fill="#2222d2" stroke="#2222d2" stroke-width="0.22">5</text>
<text transform="translate(138.70,489.0) scale(1.079,1)" font-size="7.31" font-weight="bold" fill="#2222d2" stroke="#2222d2" stroke-width="0.22">+3</text>
<text transform="translate(366.00,496.3) scale(0.952,1)" font-size="10.03" font-weight="bold" fill="#2222d2" stroke="#2222d2" stroke-width="0.22">y</text>
<text transform="translate(371.30,499.2) scale(1.149,1)" font-size="6.27" font-weight="bold" fill="#2222d2" stroke="#2222d2" stroke-width="0.22">2</text>
<text transform="translate(378.00,494.0) scale(1.145,1)" font-size="6.90" font-weight="bold" fill="#2222d2" stroke="#2222d2" stroke-width="0.22">+2</text>
<text transform="translate(526.00,494.0) scale(0.952,1)" font-size="10.03" font-weight="bold" fill="#2222d2" stroke="#2222d2" stroke-width="0.22">y</text>
<text transform="translate(531.00,496.6) scale(1.236,1)" font-size="6.27" font-weight="bold" fill="#2222d2" stroke="#2222d2" stroke-width="0.22">4</text>
<text transform="translate(538.00,492.0) scale(1.145,1)" font-size="6.90" font-weight="bold" fill="#2222d2" stroke="#2222d2" stroke-width="0.22">+2</text>
<text transform="translate(632.00,482.7) scale(1.046,1)" font-size="8.78" font-weight="bold" fill="#3e9e3e" stroke="#3e9e3e" stroke-width="0.22">b</text>
<text transform="translate(638.40,485.6) scale(1.132,1)" font-size="6.69" font-weight="bold" fill="#3e9e3e" stroke="#3e9e3e" stroke-width="0.22">10</text>
<text transform="translate(650.30,480.3) scale(1.315,1)" font-size="6.27" font-weight="bold" fill="#3e9e3e" stroke="#3e9e3e" stroke-width="0.22">+2</text>
</svg>
</body>
</html>
